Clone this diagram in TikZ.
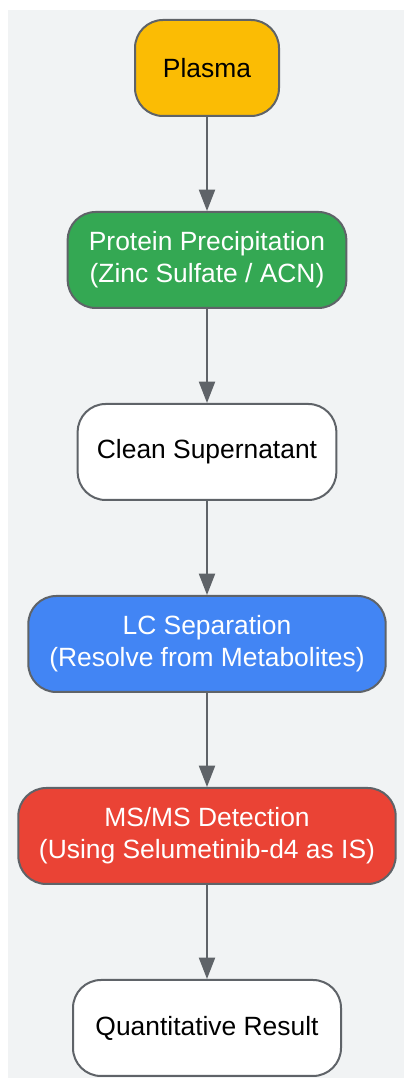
\documentclass[tikz,border=0pt]{standalone}
\usepackage{fontspec}
\setmainfont{Liberation Sans}
\usetikzlibrary{positioning}
\usetikzlibrary{arrows.meta}
\definecolor{bggray}{HTML}{F1F3F4}
\definecolor{edgegray}{HTML}{5F6368}
\definecolor{gyellow}{HTML}{FBBC04}
\definecolor{ggreen}{HTML}{34A853}
\definecolor{gblue}{HTML}{4285F4}
\definecolor{gred}{HTML}{EA4335}
\tikzset{stage/.style={draw=edgegray, line width=1.5pt, rounded corners=21pt, minimum height=72pt, align=center, font=\fontsize{19.8}{24}\selectfont}}
\tikzset{flow/.style={draw=edgegray, line width=1.5pt, -{Triangle[length=16pt,width=12pt]}}}

\begin{document}
\begin{tikzpicture}[x=0.75pt, y=0.75pt, node distance=70.5pt]
        \useasboundingbox (0,0) rectangle (404,1078);
        \fill[bggray] (8,0) rectangle (404,1068);

        \node[stage, fill=gyellow, minimum width=108pt] (plasma) at (207,1010) {Plasma};
        \node[stage, fill=ggreen, text=white, minimum width=209pt, below=of plasma] (ppt) {Protein Precipitation\\(Zinc Sulfate / ACN)};
        \node[stage, fill=white, minimum width=194pt, below=of ppt] (super) {Clean Supernatant};
        \node[stage, fill=gblue, text=white, minimum width=268pt, below=of super] (lc) {LC Separation\\(Resolve from Metabolites)};
        \node[stage, fill=gred, text=white, minimum width=283pt, below=of lc] (msms) {MS/MS Detection\\(Using Selumetinib-d4 as IS)};
        \node[stage, fill=white, minimum width=201pt, below=of msms] (result) {Quantitative Result};

        \draw[flow] (plasma) -- (ppt);
        \draw[flow] (ppt) -- (super);
        \draw[flow] (super) -- (lc);
        \draw[flow] (lc) -- (msms);
        \draw[flow] (msms) -- (result);
\end{tikzpicture}
\end{document}
